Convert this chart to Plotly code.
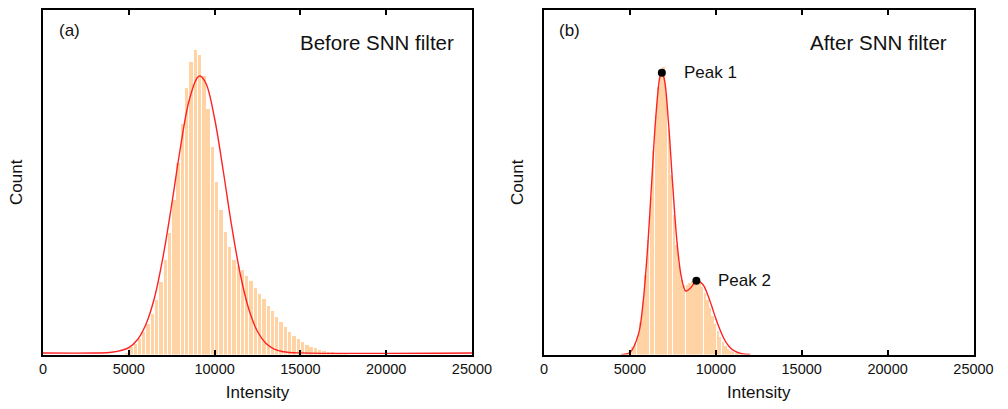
import plotly.graph_objects as go

# ---------------- data (panel a: before SNN filter) ----------------
bin_a = 250
centers_a = [4875 + 250 * i for i in range(52)]
counts_a = [1.0, 7.6, 11, 16, 22.6, 30.3, 40.3, 54.3, 72.6, 94.3, 121.6, 154.3,
            191.3, 230.3, 266.3, 292.6, 305, 299.6, 278.6, 245.3, 207.6, 172.6,
            144.3, 122.6, 107.6, 94.3, 88.3, 84.3, 79, 73.6, 67, 61, 55.6, 49,
            43.3, 37.6, 32.6, 27.3, 22.6, 19, 15.3, 12.3, 10, 8, 6.3, 5, 4, 3,
            2.3, 1.8, 1.3, 1.0]

fit_a_x = [0, 3000, 4000, 5000, 5500, 6000, 6500, 7000, 7500, 8000, 8500, 9000,
           9150, 9500, 10000, 10500, 11000, 11500, 12000, 12500, 13000, 13500,
           14000, 15000, 25000]
fit_a_y = [1.5, 1.5, 2.2, 6.9, 14.7, 30.3, 57, 98, 150, 206, 253, 277, 278.5,
           271, 236, 184, 128, 80, 45, 23, 11, 5.2, 2.8, 1.6, 1.5]

# ---------------- data (panel b: after SNN filter) ----------------
bin_b = 150
centers_b = [4725 + 150 * i for i in range(46)]
counts_b = [1, 2, 5, 8, 12, 20, 33, 53, 80, 115, 158, 205, 240, 268, 285, 288,
            262, 225, 180, 140, 110, 90, 75, 70, 70, 72, 74, 76, 75, 72, 68, 62,
            55, 47, 39, 31, 24, 18, 13, 9, 6, 4, 2.5, 1.5, 1, 0.5]

fit_b_x = [4500, 5000, 5500, 5750, 6000, 6250, 6500, 6750, 6850, 7000, 7250,
           7500, 7750, 8000, 8250, 8500, 8750, 8900, 9250, 9500, 9750, 10000,
           10250, 10500, 10750, 11000, 11500, 12000]
fit_b_y = [0.1, 2.0, 20.4, 49.2, 99.2, 167, 235.8, 278, 282, 275.5, 231, 167.4,
           111, 77, 63.5, 66, 71.5, 73.7, 70, 61, 49, 36, 24.5, 15, 8.5, 4.4,
           0.9, 0.1]

peak_x = [6860, 8870]
peak_y = [281.7, 73.7]
peak_labels = ["Peak 1", "Peak 2"]

x_ticks = [0, 5000, 10000, 15000, 20000, 25000]

BAR_COLOR = "#FFD3A3"
FIT_COLOR = "#FF2222"
FONT = "Liberation Sans, Arial, sans-serif"

fig = go.Figure()

fig.add_trace(go.Bar(x=centers_a, y=counts_a, width=bin_a * 0.78,
                     marker=dict(color=BAR_COLOR, line=dict(width=0)),
                     xaxis="x", yaxis="y", showlegend=False))
fig.add_trace(go.Scatter(x=fit_a_x, y=fit_a_y, mode="lines",
                         line=dict(color=FIT_COLOR, width=1.4, shape="spline"),
                         xaxis="x", yaxis="y", showlegend=False))

fig.add_trace(go.Bar(x=centers_b, y=counts_b, width=bin_b * 0.72,
                     marker=dict(color=BAR_COLOR, line=dict(width=0)),
                     xaxis="x2", yaxis="y2", showlegend=False))
fig.add_trace(go.Scatter(x=fit_b_x, y=fit_b_y, mode="lines",
                         line=dict(color=FIT_COLOR, width=1.4, shape="spline"),
                         xaxis="x2", yaxis="y2", showlegend=False))
fig.add_trace(go.Scatter(x=peak_x, y=peak_y, mode="markers",
                         marker=dict(color="black", size=8),
                         xaxis="x2", yaxis="y2", showlegend=False))

ydom = [1 - 354.5 / 409, 1 - 10 / 409]
xa_common = dict(range=[0, 25000], tickvals=x_ticks,
                 ticktext=[str(t) for t in x_ticks], automargin=False,
                 ticks="inside", ticklen=5, tickwidth=1.6, tickcolor="black",
                 showline=True, linecolor="black", linewidth=1.8,
                 mirror="allticks", showgrid=False, zeroline=False,
                 tickfont=dict(family=FONT, size=14.5, color="#111"),
                 title=dict(text="Intensity", standoff=10,
                            font=dict(family=FONT, size=17, color="#111")))
ya_common = dict(range=[0, 344.5], showticklabels=False, ticks="",
                 automargin=False,
                 showline=True, linecolor="black", linewidth=1.8, mirror=True,
                 showgrid=False, zeroline=False,
                 title=dict(text="Count", standoff=14,
                            font=dict(family=FONT, size=17, color="#111")))

fig.update_layout(
    template="none",
    width=1008, height=409, autosize=False,
    margin=dict(l=0, r=0, t=0, b=0, pad=0),
    paper_bgcolor="white", plot_bgcolor="white",
    bargap=0,
    xaxis=dict(domain=[43 / 1008, 472 / 1008], anchor="y", **xa_common),
    yaxis=dict(domain=ydom, anchor="x", **ya_common),
    xaxis2=dict(domain=[544 / 1008, 973.5 / 1008], anchor="y2", **xa_common),
    yaxis2=dict(domain=ydom, anchor="x2", **ya_common),
)

ann_font = dict(family=FONT, size=17, color="#111")
big_font = dict(family=FONT, size=20.5, color="#111")
annotations = [
    dict(text="(a)", xref="x domain", yref="y domain", x=0.032, y=0.94,
         xanchor="left", yanchor="middle", showarrow=False, font=ann_font),
    dict(text="Before SNN filter", xref="x domain", yref="y domain", x=0.963,
         y=0.905, xanchor="right", yanchor="middle", showarrow=False,
         font=big_font),
    dict(text="(b)", xref="x2 domain", yref="y2 domain", x=0.030, y=0.94,
         xanchor="left", yanchor="middle", showarrow=False, font=ann_font),
    dict(text="After SNN filter", xref="x2 domain", yref="y2 domain", x=0.944,
         y=0.905, xanchor="right", yanchor="middle", showarrow=False,
         font=big_font),
]
for px_, py_, lab in zip(peak_x, peak_y, peak_labels):
    annotations.append(dict(text=lab, x=px_, y=py_, xref="x2", yref="y2",
                            xanchor="left", yanchor="middle", xshift=20,
                            showarrow=False, font=ann_font))
fig.update_layout(annotations=annotations)

fig.write_html("out.html", config={"responsive": False})
